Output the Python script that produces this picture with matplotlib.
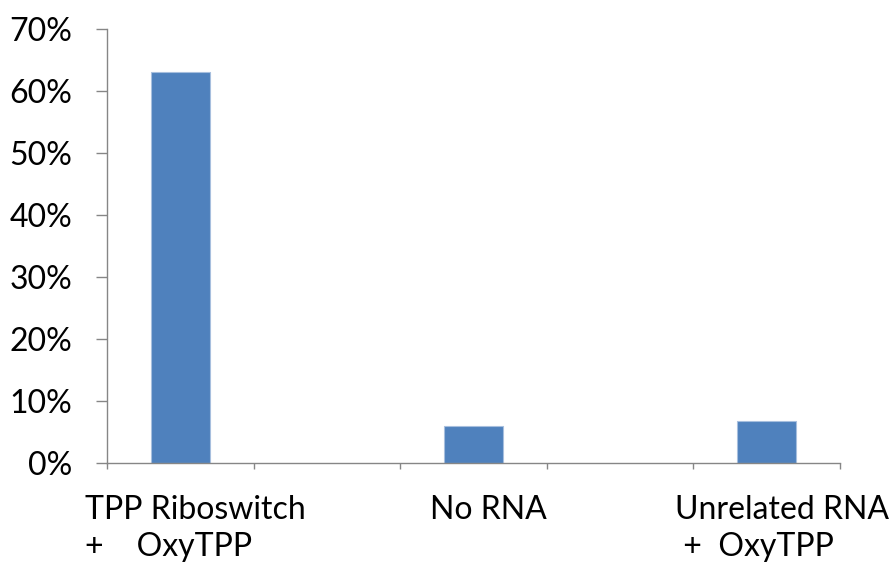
import matplotlib

matplotlib.use("Agg")
import matplotlib.pyplot as plt
import matplotlib.transforms as mtransforms
import numpy as np

plt.rcParams["font.family"] = ["Lato", "DejaVu Sans"]

# five category slots, the two in between are left empty
slots = ["TPP Riboswitch\n+    OxyTPP", "", "No RNA", "", "Unrelated RNA\n +  OxyTPP"]
binding = [0.631, np.nan, 0.059, np.nan, 0.067]
y_ticks = [0.0, 0.1, 0.2, 0.3, 0.4, 0.5, 0.6, 0.7]

BAR = "#4F81BD"
EDGE = "#A7BFDE"
AXIS = "#868686"

fig = plt.figure(figsize=(8.96, 5.69), dpi=100)
ax = fig.add_axes([0.1194, 0.1863, 0.818, 0.7627])

x = np.arange(len(slots))
ax.bar(x, binding, width=0.4, color=BAR, edgecolor=EDGE, linewidth=0.8)

ax.set_xlim(-0.5, len(slots) - 0.5)
ax.set_ylim(0, 0.7)
ax.set_yticks(y_ticks)
ax.set_yticklabels([f"{v * 100:.0f}%" for v in y_ticks], fontsize=23)
ax.tick_params(axis="y", direction="out", length=8, width=1, color=AXIS, pad=17)

# category boundaries carry the x tick marks
ax.set_xticks(np.arange(-0.5, len(slots), 1.0))
ax.set_xticklabels([])
ax.tick_params(axis="x", direction="out", length=4, width=1, color=AXIS)

for side in ("top", "right"):
    ax.spines[side].set_visible(False)
for side in ("left", "bottom"):
    ax.spines[side].set_color(AXIS)
    ax.spines[side].set_linewidth(1)

# category names sit a little right of their bars, lines left-aligned
shift = mtransforms.ScaledTranslation(15 / 100, -32 / 100, fig.dpi_scale_trans)
trans = mtransforms.blended_transform_factory(ax.transData, ax.transAxes) + shift
for xi, name in zip(x, slots):
    if name:
        ax.text(xi, 0, name, transform=trans, ha="center", va="top",
                multialignment="left", fontsize=23, linespacing=1.3)

fig.savefig("out.png", dpi=100, facecolor="white")
